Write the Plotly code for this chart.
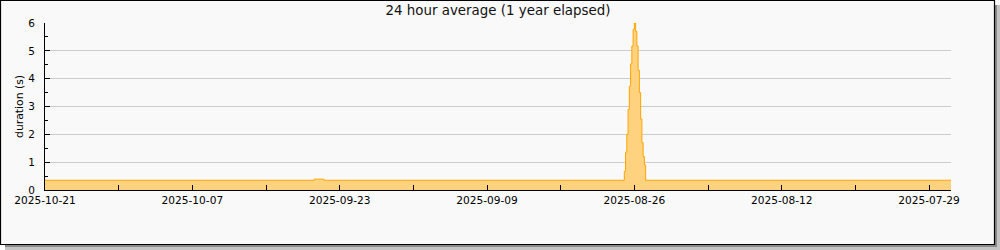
import plotly.graph_objects as go

# ---- data (picture order: newest -> oldest; each value holds until the next, older point) ----
times = [
    "2025-10-21 00:00",
    "2025-09-25 10:00", "2025-09-24 12:00",
    "2025-08-26 23:00", "2025-08-26 20:08", "2025-08-26 17:16", "2025-08-26 14:24",
    "2025-08-26 11:32", "2025-08-26 08:40", "2025-08-26 05:48", "2025-08-26 02:56",
    "2025-08-26 00:04", "2025-08-25 21:12", "2025-08-25 18:20", "2025-08-25 15:28",
    "2025-08-25 12:36", "2025-08-25 09:44", "2025-08-25 06:52", "2025-08-25 04:00",
    "2025-08-25 01:08", "2025-08-24 22:16",
    "2025-07-26 22:00",
]
durations = [
    0.35,
    0.39, 0.35,
    0.67, 1.36, 2.0, 2.9,
    3.73, 4.53, 5.17, 5.77,
    6.0, 5.7, 5.17, 4.3,
    3.5, 2.55, 1.7, 1.2,
    0.9, 0.35,
    0.35,
]
x_range = ["2025-10-21 00:00", "2025-07-26 22:00"]
title_text = "24 hour average (1 year elapsed)"
y_title = "duration (s)"

# ---- layout geometry (pixels) ----
W, H = 1000, 250
L, R, T, B = 45, 49, 23, 60
PW, PH = W - L - R, H - T - B


def px_x(px):
    return (px - L) / PW


def px_y(py):
    return (H - B - py) / PH


fig = go.Figure()
fig.add_trace(go.Scatter(
    x=times, y=durations, mode="lines", line_shape="hv",
    line=dict(color="#ffa500", width=1),
    fill="tozeroy", fillcolor="#ffd27f", hoverinfo="skip", showlegend=False,
))

shapes = [
    # shadow
    dict(type="rect", xref="paper", yref="paper", layer="below",
         x0=px_x(995), x1=px_x(997), y0=px_y(5), y1=px_y(250),
         fillcolor="#8a8a8a", line=dict(width=0)),
    dict(type="rect", xref="paper", yref="paper", layer="below",
         x0=px_x(997), x1=px_x(1000), y0=px_y(5), y1=px_y(250),
         fillcolor="#c4c4c4", line=dict(width=0)),
    dict(type="rect", xref="paper", yref="paper", layer="below",
         x0=px_x(5), x1=px_x(997), y0=px_y(245), y1=px_y(247),
         fillcolor="#8a8a8a", line=dict(width=0)),
    dict(type="rect", xref="paper", yref="paper", layer="below",
         x0=px_x(5), x1=px_x(1000), y0=px_y(247), y1=px_y(250),
         fillcolor="#c4c4c4", line=dict(width=0)),
    # frame
    dict(type="rect", xref="paper", yref="paper", layer="below",
         x0=px_x(0.5), x1=px_x(994.5), y0=px_y(244.5), y1=px_y(0.5),
         fillcolor="#f9f9f9", line=dict(color="black", width=1.2)),
]

DAY = 86400000
fig.update_layout(
    width=W, height=H,
    margin=dict(l=L, r=R, t=T, b=B, pad=0),
    paper_bgcolor="white", plot_bgcolor="white",
    font=dict(family="DejaVu Sans", color="black", size=10),
    title=dict(text=title_text, x=0.5, xref="paper", xanchor="center",
               y=1 - 10 / H, yref="container", yanchor="middle",
               font=dict(size=13.4, family="DejaVu Sans", color="#111")),
    shapes=shapes,
    showlegend=False,
)
fig.update_xaxes(
    type="date", range=x_range, autorange=False,
    tickformat="%Y-%m-%d", tick0="2025-10-21", dtick=14 * DAY,
    ticks="inside", ticklen=5, tickcolor="black", tickwidth=1,
    showline=True, linecolor="black", linewidth=1,
    showgrid=False, zeroline=False,
    tickfont=dict(size=10.6, family="DejaVu Sans"),
    minor=dict(tick0="2025-10-21", dtick=7 * DAY, ticks="inside", ticklen=5,
               tickcolor="black", showgrid=False),
)
fig.update_yaxes(
    range=[0, 6], autorange=False, dtick=1, tick0=0,
    ticks="inside", ticklen=5, tickcolor="black", tickwidth=1,
    showline=True, linecolor="black", linewidth=1,
    showgrid=True, gridcolor="#cccccc", gridwidth=1, zeroline=False,
    tickfont=dict(size=10.5, family="DejaVu Sans"),
    ticklabelstandoff=7,
    title=dict(text=y_title, font=dict(size=10.8, family="DejaVu Sans"), standoff=2),
    minor=dict(dtick=0.5, ticks="inside", ticklen=3, tickcolor="black", showgrid=False),
)

fig.write_html("out.html")
